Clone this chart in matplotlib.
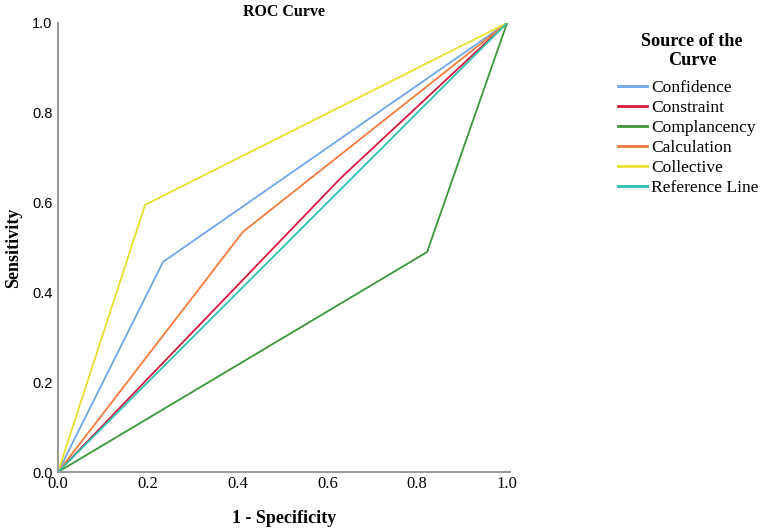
import matplotlib
matplotlib.use("Agg")
import matplotlib.pyplot as plt

# ROC points (1 - specificity, sensitivity)
names = ["Confidence", "Constraint", "Complancency", "Calculation", "Collective", "Reference Line"]
fpr = {
    "Confidence": [0.0, 0.234, 1.0],
    "Constraint": [0.0, 0.63, 1.0],
    "Complancency": [0.0, 0.822, 1.0],
    "Calculation": [0.0, 0.412, 1.0],
    "Collective": [0.0, 0.194, 1.0],
    "Reference Line": [0.0, 1.0],
}
tpr = {
    "Confidence": [0.0, 0.468, 1.0],
    "Constraint": [0.0, 0.655, 1.0],
    "Complancency": [0.0, 0.49, 1.0],
    "Calculation": [0.0, 0.535, 1.0],
    "Collective": [0.0, 0.595, 1.0],
    "Reference Line": [0.0, 1.0],
}
colors = ["#6fa6ea", "#d8173f", "#3b963a", "#f97a3c", "#e6df2e", "#2ec2ad"]
ticks = [0.0, 0.2, 0.4, 0.6, 0.8, 1.0]

serif = "Liberation Serif"
sans = "Liberation Sans"

fig = plt.figure(figsize=(7.65, 5.30), dpi=100)
ax = fig.add_axes([58 / 765, 1 - 472 / 530, (510 - 58) / 765, (472 - 23) / 530])

for name, c in zip(names, colors):
    ax.plot(fpr[name], tpr[name], color=c, lw=1.3, label=name, solid_joinstyle="miter")

ax.set_xlim(0, 1.0066)
ax.set_ylim(0, 1.0)
ax.set_xticks(ticks)
ax.set_yticks(ticks)
ax.set_xticklabels([f"{t:.1f}" for t in ticks], fontfamily=serif, fontsize=12)
ax.set_yticklabels([f"{t:.1f}" for t in ticks], fontfamily=sans, fontsize=10.5)
ax.tick_params(length=0, pad=4)
ax.tick_params(axis="x", pad=3)

for s in ["top", "right"]:
    ax.spines[s].set_visible(False)
for s in ["left", "bottom"]:
    ax.spines[s].set_color("#9a9a9a")
    ax.spines[s].set_linewidth(1.5)

ax.set_title("ROC Curve", fontfamily=serif, fontweight="bold", fontsize=11.5, pad=5)
ax.set_xlabel("1 - Specificity", fontfamily=serif, fontweight="bold", fontsize=13, labelpad=13)
ax.set_ylabel("Sensitivity", fontfamily=serif, fontweight="bold", fontsize=13, labelpad=7)

leg = ax.legend(loc="upper left", bbox_to_anchor=(618 / 765, 1 - 80 / 530),
                bbox_transform=fig.transFigure, frameon=False,
                handlelength=1.65, handletextpad=0.25,
                labelspacing=0.21, borderaxespad=0, borderpad=0,
                prop={"family": serif, "size": 12.6})
for line in leg.get_lines():
    line.set_linewidth(2)

fig.text(692 / 765, 1 - 51 / 530, "Source of the\nCurve", ha="center", va="center",
         multialignment="center", fontfamily=serif, fontweight="bold", fontsize=13.1,
         linespacing=1.15)

fig.savefig("out.png", dpi=100)
